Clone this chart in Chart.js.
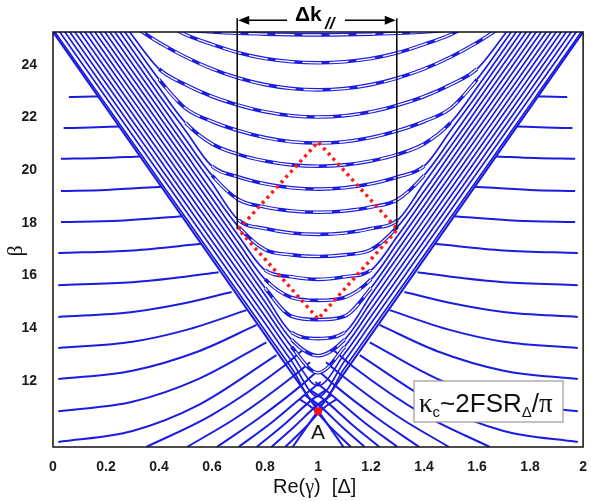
<!DOCTYPE html>
<html>
<head>
<meta charset="utf-8">
<script src="https://cdn.jsdelivr.net/npm/chart.js@4.4.1/dist/chart.umd.min.js"></script>
<style>
  html, body { margin: 0; padding: 0; background: #fff; }
</style>
</head>
<body>
<canvas id="chart" width="591" height="501"></canvas>
<script>
// ejes
const xTicks = [0, 0.2, 0.4, 0.6, 0.8, 1, 1.2, 1.4, 1.6, 1.8, 2];
const yTicks = [12, 14, 16, 18, 20, 22, 24];

// bandas internas (dentro de la V), beta en cada Re(gamma) de bandX
const bandX = [0, 0.1, 0.2, 0.3, 0.4, 0.5, 0.6, 0.7, 0.8, 0.9, 1.0, 1.1, 1.2, 1.3, 1.4, 1.5, 1.6, 1.7, 1.8, 1.9, 2.0];
const bandBeta = [
  [25.35, 23.92, 22.49, 21.06, 19.63, 18.2, 16.77, 15.34, 13.91, 12.48, 11.05, 12.48, 13.91, 15.34, 16.77, 18.2, 19.63, 21.06, 22.49, 23.92, 25.35],
  [25.62, 24.19, 22.76, 21.33, 19.9, 18.47, 17.04, 15.61, 14.18, 12.75, 11.39, 12.75, 14.18, 15.61, 17.04, 18.47, 19.9, 21.33, 22.76, 24.19, 25.62],
  [25.89, 24.46, 23.03, 21.6, 20.17, 18.74, 17.31, 15.88, 14.45, 13.02, 11.81, 13.02, 14.45, 15.88, 17.31, 18.74, 20.17, 21.6, 23.03, 24.46, 25.89],
  [26.16, 24.73, 23.3, 21.87, 20.44, 19.01, 17.58, 16.15, 14.72, 13.29, 12.3, 13.29, 14.72, 16.15, 17.58, 19.01, 20.44, 21.87, 23.3, 24.73, 26.16],
  [26.43, 25.0, 23.57, 22.14, 20.71, 19.28, 17.85, 16.42, 14.99, 13.56, 12.95, 13.56, 14.99, 16.42, 17.85, 19.28, 20.71, 22.14, 23.57, 25.0, 26.43],
  [26.7, 25.27, 23.84, 22.41, 20.98, 19.55, 18.12, 16.69, 15.26, 13.83, 13.6, 13.83, 15.26, 16.69, 18.12, 19.55, 20.98, 22.41, 23.84, 25.27, 26.7],
  [null, 25.54, 24.11, 22.68, 21.25, 19.82, 18.39, 16.96, 15.53, 14.45, 14.32, 14.45, 15.53, 16.96, 18.39, 19.82, 21.25, 22.68, 24.11, 25.54, null],
  [null, 25.81, 24.38, 22.95, 21.52, 20.09, 18.66, 17.23, 15.85, 15.16, 15.05, 15.16, 15.85, 17.23, 18.66, 20.09, 21.52, 22.95, 24.38, 25.81, null],
  [null, 26.08, 24.65, 23.22, 21.79, 20.36, 18.93, 17.5, 16.2, 15.95, 15.85, 15.95, 16.2, 17.5, 18.93, 20.36, 21.79, 23.22, 24.65, 26.08, null],
  [null, 26.35, 24.92, 23.49, 22.06, 20.63, 19.2, 17.85, 16.98, 16.78, 16.72, 16.78, 16.98, 17.85, 19.2, 20.63, 22.06, 23.49, 24.92, 26.35, null],
  [null, 26.62, 25.19, 23.76, 22.33, 20.9, 19.5, 18.1, 17.78, 17.61, 17.56, 17.61, 17.78, 18.1, 19.5, 20.9, 22.33, 23.76, 25.19, 26.62, null],
  [null, null, 25.46, 24.03, 22.6, 21.17, 19.8, 18.88, 18.6, 18.45, 18.4, 18.45, 18.6, 18.88, 19.8, 21.17, 22.6, 24.03, 25.46, null, null],
  [null, null, 25.73, 24.3, 22.87, 21.5, 20.15, 19.74, 19.48, 19.33, 19.28, 19.33, 19.48, 19.74, 20.15, 21.5, 22.87, 24.3, 25.73, null, null],
  [null, null, 26.0, 24.57, 23.14, 21.8, 21.0, 20.6, 20.35, 20.2, 20.15, 20.2, 20.35, 20.6, 21.0, 21.8, 23.14, 24.57, 26.0, null, null],
  [null, null, 26.27, 24.84, 23.45, 22.35, 21.85, 21.5, 21.24, 21.08, 21.03, 21.08, 21.24, 21.5, 21.85, 22.35, 23.45, 24.84, 26.27, null, null],
  [null, null, 26.54, 25.11, 23.85, 23.25, 22.8, 22.47, 22.22, 22.07, 22.02, 22.07, 22.22, 22.47, 22.8, 23.25, 23.85, 25.11, 26.54, null, null],
  [null, null, null, 25.5, 24.85, 24.3, 23.85, 23.5, 23.25, 23.1, 23.05, 23.1, 23.25, 23.5, 23.85, 24.3, 24.85, 25.5, null, null, null],
  [null, null, null, null, 25.7, 25.15, 24.78, 24.46, 24.24, 24.12, 24.08, 24.12, 24.24, 24.46, 24.78, 25.15, 25.7, null, null, null, null],
  [null, null, null, null, null, 25.32, 25.25, 25.2, 25.17, 25.15, 25.14, 25.15, 25.17, 25.2, 25.25, 25.32, null, null, null, null, null]
];

// abanico izquierdo (fuera de la V) [Re(gamma), beta]
const leftFan = [
  [[0.06, 22.78], [0.11, 22.79], [0.17, 22.8]],
  [[0.04, 21.6], [0.14, 21.62], [0.25, 21.66]],
  [[0.03, 20.43], [0.18, 20.46], [0.33, 20.52]],
  [[0.03, 19.21], [0.2, 19.25], [0.41, 19.37]],
  [[0.03, 18.03], [0.25, 18.08], [0.49, 18.25]],
  [[0.02, 16.85], [0.3, 16.95], [0.56, 17.2]],
  [[0.02, 15.63], [0.3, 15.74], [0.45, 15.89], [0.625, 16.12]],
  [[0.02, 14.42], [0.3, 14.61], [0.5, 14.95], [0.674, 15.37]],
  [[0.02, 13.24], [0.3, 13.48], [0.5, 13.92], [0.73, 14.68]],
  [[0.02, 12.06], [0.3, 12.38], [0.55, 13.12], [0.768, 14.12]],
  [[0.02, 10.84], [0.3, 11.2], [0.55, 12.07], [0.805, 13.46]],
  [[0.02, 9.67], [0.3, 10.09], [0.55, 11.08], [0.843, 12.97]]
];
const leftLow = [
  [[0.352, 9.48], [0.6, 10.7], [0.87, 12.55], [0.94, 13.15]],
  [[0.506, 9.48], [0.7, 10.65], [0.91, 12.2], [0.97, 12.7]],
  [[0.618, 9.48], [0.78, 10.6], [0.94, 11.85], [0.99, 12.3]],
  [[0.70, 9.48], [0.83, 10.45], [0.96, 11.55], [1.01, 11.95]],
  [[0.768, 9.48], [0.87, 10.32], [0.98, 11.3], [1.03, 11.65]],
  [[0.824, 9.48], [0.91, 10.25], [1.0, 11.1], [1.05, 11.45]],
  [[0.876, 9.48], [0.95, 10.2], [1.02, 10.95], [1.07, 11.3]]
];

// abanico derecho
const rightFan = [
  [[1.83, 22.8], [1.89, 22.79], [1.94, 22.78]],
  [[1.75, 21.66], [1.86, 21.62], [1.96, 21.6]],
  [[1.67, 20.52], [1.82, 20.46], [1.97, 20.43]],
  [[1.59, 19.37], [1.8, 19.25], [1.97, 19.21]],
  [[1.51, 18.25], [1.75, 18.08], [1.97, 18.03]],
  [[1.44, 17.2], [1.7, 16.95], [1.98, 16.85]],
  [[1.375, 16.12], [1.55, 15.89], [1.7, 15.74], [1.98, 15.63]],
  [[1.326, 15.37], [1.5, 14.95], [1.7, 14.61], [1.98, 14.42]],
  [[1.27, 14.68], [1.5, 13.92], [1.7, 13.48], [1.98, 13.24]],
  [[1.232, 14.12], [1.45, 13.12], [1.7, 12.38], [1.98, 12.06]],
  [[1.195, 13.46], [1.45, 12.07], [1.7, 11.2], [1.98, 10.84]],
  [[1.157, 12.97], [1.45, 11.08], [1.7, 10.09], [1.98, 9.67]]
];
const rightLow = [
  [[1.06, 13.15], [1.13, 12.55], [1.4, 10.7], [1.648, 9.48]],
  [[1.03, 12.7], [1.09, 12.2], [1.3, 10.65], [1.494, 9.48]],
  [[1.01, 12.3], [1.06, 11.85], [1.22, 10.6], [1.382, 9.48]],
  [[0.99, 11.95], [1.04, 11.55], [1.17, 10.45], [1.30, 9.48]],
  [[0.97, 11.65], [1.02, 11.3], [1.13, 10.32], [1.232, 9.48]],
  [[0.95, 11.45], [1.0, 11.1], [1.09, 10.25], [1.176, 9.48]],
  [[0.93, 11.3], [0.98, 10.95], [1.05, 10.2], [1.124, 9.48]]
];

// bordes de la V (cruzan en A)
const vEdges = [
  [[0, 25.25], [1, 10.86], [1.096, 9.48]],
  [[0.904, 9.48], [1, 10.86], [2, 25.25]]
];

// rombo rojo punteado y punto A
const diamond = [[0.70, 17.75], [1.0, 21.07], [1.30, 17.75], [1.0, 14.35], [0.70, 17.75]];
const pointA = [1.0, 10.84];

// rectangulo Δk//
const rectX = [0.695, 1.297];
const rectBottom = 17.75;
const rectTop = 25.7;

const blue = '#1c1ce0';

function serie(points, width) {
    return {
        data: points.map(p => ({ x: p[0], y: p[1] })),
        borderColor: blue,
        borderWidth: width,
        pointRadius: 0,
        fill: false,
        cubicInterpolationMode: 'monotone'
    };
}

// tramo empinado (brazos junto a la V)
const steep = c => Math.abs(c.p1.parsed.y - c.p0.parsed.y) > 1.1;

let datasets = [];
datasets.push({
    data: [{ x: pointA[0], y: pointA[1] }],
    showLine: false,
    pointRadius: 4,
    pointBackgroundColor: '#ff1010',
    pointBorderWidth: 0
});
datasets.push({
    data: diamond.map(p => ({ x: p[0], y: p[1] })),
    borderColor: '#ff1a1a',
    borderWidth: 3.5,
    borderDash: [3, 4],
    pointRadius: 0,
    tension: 0
});
// cada banda: linea blanca discontinua encima para dar el efecto de trenza
bandBeta.forEach((vals, k) => {
    const pts = bandX.map((x, i) => [x, vals[i]]);
    const braid = serie(pts, 1.3);
    braid.borderColor = '#ffffff';
    braid.borderDash = [19, 8];
    braid.borderDashOffset = k * 7;
    braid.segment = { borderColor: c => steep(c) ? 'rgba(255,255,255,0)' : undefined };
    datasets.push(braid);
    const band = serie(pts, 3.6);
    band.segment = { borderWidth: c => steep(c) ? 1.7 : undefined };
    datasets.push(band);
});
leftFan.concat(leftLow, rightFan, rightLow).forEach(c => datasets.push(serie(c, 2)));
vEdges.forEach(c => datasets.push(Object.assign(serie(c, 2), { cubicInterpolationMode: 'default', tension: 0 })));

const extras = {
    id: 'extras',
    afterDatasetsDraw(chart) {
        const ctx = chart.ctx;
        const xs = chart.scales.x, ys = chart.scales.y;
        const a = chart.chartArea;
        ctx.save();
        // marco
        ctx.strokeStyle = '#111';
        ctx.lineWidth = 1.5;
        ctx.strokeRect(a.left, a.top, a.right - a.left, a.bottom - a.top);

        // rectangulo y flecha
        const x1 = xs.getPixelForValue(rectX[0]);
        const x2 = xs.getPixelForValue(rectX[1]);
        const yb = ys.getPixelForValue(rectBottom);
        const yt = ys.getPixelForValue(rectTop);
        ctx.lineWidth = 1.5;
        ctx.strokeStyle = '#000';
        ctx.beginPath();
        ctx.moveTo(x1, yt - 2); ctx.lineTo(x1, yb);
        ctx.moveTo(x2, yt - 2); ctx.lineTo(x2, yb);
        ctx.stroke();
        const xm = (x1 + x2) / 2;
        ctx.beginPath();
        ctx.moveTo(x1 + 6, yt); ctx.lineTo(xm - 30, yt);
        ctx.moveTo(xm + 28, yt); ctx.lineTo(x2 - 6, yt);
        ctx.stroke();
        ctx.fillStyle = '#000';
        ctx.beginPath();
        ctx.moveTo(x1 + 1, yt); ctx.lineTo(x1 + 12, yt - 4.5); ctx.lineTo(x1 + 12, yt + 4.5); ctx.closePath();
        ctx.moveTo(x2 - 1, yt); ctx.lineTo(x2 - 12, yt - 4.5); ctx.lineTo(x2 - 12, yt + 4.5); ctx.closePath();
        ctx.fill();
        ctx.font = 'bold 21px "Liberation Sans", Arial, sans-serif';
        ctx.textBaseline = 'alphabetic';
        ctx.textAlign = 'left';
        ctx.fillText('Δk', xm - 22, yt + 1);
        ctx.font = 'italic bold 17px "Liberation Sans", Arial, sans-serif';
        ctx.fillText('//', xm + 8, yt + 9);

        // etiqueta A
        ctx.font = '21px "Liberation Sans", Arial, sans-serif';
        ctx.textAlign = 'center';
        ctx.fillStyle = '#111';
        ctx.fillText('A', xs.getPixelForValue(1.0), 439);

        // caja kappa
        ctx.fillStyle = '#fff';
        ctx.fillRect(414, 381, 149, 41);
        ctx.strokeStyle = '#999';
        ctx.lineWidth = 1.2;
        ctx.strokeRect(414, 381, 149, 41);
        ctx.fillStyle = '#111';
        ctx.textAlign = 'left';
        let tx = 419;
        const base = 412;
        const parts = [
            ['κ', '27px "Liberation Serif", "Times New Roman", serif', 0],
            ['c', '15px "Liberation Sans", Arial, sans-serif', 5],
            ['~2FSR', '26px "Liberation Sans", Arial, sans-serif', 0],
            ['Δ', '15px "Liberation Sans", Arial, sans-serif', 5],
            ['/', '26px "Liberation Sans", Arial, sans-serif', 0],
            ['π', '27px "Liberation Serif", "Times New Roman", serif', 0]
        ];
        parts.forEach(p => {
            ctx.font = p[1];
            ctx.fillText(p[0], tx, base + p[2]);
            tx += ctx.measureText(p[0]).width;
        });

        // titulos de ejes
        ctx.fillStyle = '#111';
        ctx.textAlign = 'left';
        let ux = 273;
        const ub = 493;
        [['Re(', '20px "Liberation Sans", Arial, sans-serif'],
         ['γ', '20px "Liberation Serif", "Times New Roman", serif'],
         [')  [Δ]', '20px "Liberation Sans", Arial, sans-serif']].forEach(p => {
            ctx.font = p[1];
            ctx.fillText(p[0], ux, ub);
            ux += ctx.measureText(p[0]).width;
        });
        ctx.translate(22, 251);
        ctx.rotate(-Math.PI / 2);
        ctx.textAlign = 'center';
        ctx.font = '22px "Liberation Serif", "Times New Roman", serif';
        ctx.fillText('β', 0, 0);
        ctx.restore();
    }
};

new Chart(document.getElementById('chart').getContext('2d'), {
    type: 'line',
    data: { datasets: datasets },
    options: {
        responsive: false,
        animation: false,
        layout: { padding: { left: 0, right: 5, top: 32, bottom: 0 } },
        plugins: { legend: { display: false }, tooltip: { enabled: false } },
        scales: {
            x: {
                type: 'linear',
                min: 0,
                max: 2,
                grid: { display: false },
                border: { display: false },
                afterBuildTicks: s => { s.ticks = xTicks.map(v => ({ value: v })); },
                afterFit: s => { s.height = 54; },
                ticks: {
                    padding: 4,
                    color: '#1a1a1a',
                    font: { family: '"Liberation Sans", Arial, sans-serif', size: 14, weight: 'bold' },
                    maxRotation: 0,
                    autoSkip: false,
                    callback: v => String(v)
                }
            },
            y: {
                type: 'linear',
                min: 9.48,
                max: 25.25,
                grid: { display: false },
                border: { display: false },
                afterBuildTicks: s => { s.ticks = yTicks.map(v => ({ value: v })); },
                afterFit: s => { s.width = 53; },
                ticks: {
                    padding: 8,
                    color: '#1a1a1a',
                    font: { family: '"Liberation Sans", Arial, sans-serif', size: 14, weight: 'bold' },
                    callback: v => String(v)
                }
            }
        }
    },
    plugins: [extras]
});
</script>
</body>
</html>
